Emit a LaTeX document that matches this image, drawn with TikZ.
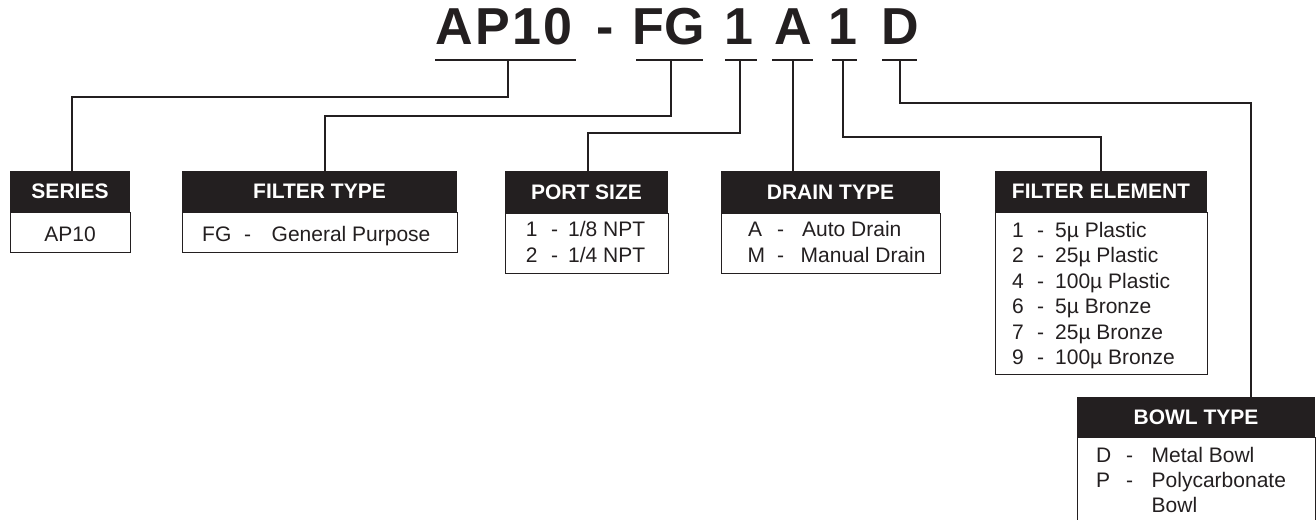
\documentclass[tikz,border=0pt]{standalone}
\usepackage{fontspec}
\setmainfont{Liberation Sans}
\definecolor{ink}{HTML}{231F20}
\newcommand\optrow[7]{%
  \node[txt] (#1c) at (#3,#2) {#4};
  \node[txt] (#1d) at (#5,#2) {-};
  \node[txt] (#1t) at (#6,#2) {#7};}
\begin{document}
\begin{tikzpicture}[x=1pt,y=-1pt,
  conn/.style={draw=ink, line width=1.4pt},
  uline/.style={draw=ink, line width=1.5pt},
  hdr/.style={fill=ink, text=white, font=\fontsize{21}{21}\selectfont\bfseries, inner sep=0pt},
  bodybox/.style={draw=ink, line width=0.9pt, fill=white, inner sep=0pt, anchor=north},
  txt/.style={anchor=base west, inner sep=0pt, text=ink, font=\fontsize{21}{21}\selectfont},
  ttl/.style={anchor=base, inner sep=0pt, text=ink, font=\fontsize{52}{52}\selectfont\bfseries}]
\useasboundingbox (0,0) rectangle (1316,519);
\clip (0,0) rectangle (1316,519);
\fill[white] (0,0) rectangle (1316,519);

% title
\node[ttl] (tAP) at (504,45) {A\kern2.5pt P\kern2.5pt 1\kern2.5pt 0};
\node[ttl] (tdash) at (605,45) {-};
\node[ttl] (tFG) at (669,45) {FG};
\node[ttl] (tone) at (738.5,45) {1};
\node[ttl] (tA) at (793,45) {A};
\node[ttl] (ttwo) at (843,45) {1};
\node[ttl] (tD) at (900,45) {D};

% underlines
\coordinate (uAPl) at (435,60); \coordinate (uAPr) at (576,60);
\coordinate (uFGl) at (636,60); \coordinate (uFGr) at (703,60);
\coordinate (uPl) at (725,60);  \coordinate (uPr) at (757,60);
\coordinate (uAl) at (772,60);  \coordinate (uAr) at (813,60);
\coordinate (uEl) at (832,60);  \coordinate (uEr) at (857,60);
\coordinate (uDl) at (882,60);  \coordinate (uDr) at (917,60);
\foreach \a/\b in {uAPl/uAPr,uFGl/uFGr,uPl/uPr,uAl/uAr,uEl/uEr,uDl/uDr}
  \draw[uline] (\a) -- (\b);

% stem starts
\coordinate (sAP) at (508,60);
\coordinate (sFG) at (671,60);
\coordinate (sP) at (740,60);
\coordinate (sA) at (793,60);
\coordinate (sE) at (843,60);
\coordinate (sD) at (900,60);

% boxes
\node[hdr, minimum width=120pt, minimum height=41pt] (serh) at (70,191.5) {SERIES};
\node[bodybox, minimum width=120pt, minimum height=40pt] (serb) at (serh.south) {};
\node[txt, anchor=base] (serv) at (70,241) {AP10};

\node[hdr, minimum width=275pt, minimum height=41pt] (fth) at (319.5,191.5) {FILTER TYPE};
\node[bodybox, minimum width=275pt, minimum height=40pt] (ftb) at (fth.south) {};
\optrow{ft}{241}{202}{FG}{244}{271.5}{General Purpose}

\node[hdr, minimum width=163pt, minimum height=42pt] (psh) at (586.5,192) {PORT SIZE};
\node[bodybox, minimum width=163pt, minimum height=60pt] (psb) at (psh.south) {};
\optrow{psa}{236}{525.7}{1}{551}{568}{1/8 NPT}
\optrow{psb}{262}{525.7}{2}{551}{568}{1/4 NPT}

\node[hdr, minimum width=219pt, minimum height=42pt] (dth) at (830.5,192) {DRAIN TYPE};
\node[bodybox, minimum width=219pt, minimum height=60pt] (dtb) at (dth.south) {};
\optrow{dta}{236}{748}{A}{777}{802}{Auto Drain}
\optrow{dtb}{262}{747.5}{M}{777}{800.5}{Manual Drain}

\node[hdr, minimum width=212pt, minimum height=41pt] (feh) at (1101,191.5) {FILTER ELEMENT};
\node[bodybox, minimum width=212pt, minimum height=162pt] (feb) at (feh.south) {};
\optrow{fea}{237}{1012}{1}{1037}{1055}{5µ Plastic}
\optrow{feb}{262.5}{1012}{2}{1037}{1055}{25µ Plastic}
\optrow{fec}{288}{1012}{4}{1037}{1055}{100µ Plastic}
\optrow{fed}{313.5}{1012}{6}{1037}{1055}{5µ Bronze}
\optrow{fee}{339}{1012}{7}{1037}{1055}{25µ Bronze}
\optrow{fef}{364.5}{1012}{9}{1037}{1055}{100µ Bronze}

\node[hdr, minimum width=238pt, minimum height=40pt] (bth) at (1196,417) {BOWL TYPE};
\node[bodybox, minimum width=238pt, minimum height=110pt] (btb) at (bth.south) {};
\optrow{bta}{462}{1096}{D}{1126}{1151.5}{Metal Bowl}
\optrow{btb}{487}{1096}{P}{1126}{1151.5}{Polycarbonate}
\node[txt] (btc) at (1151.5,512) {Bowl};

% entry points
\coordinate (eSer) at (72,171);
\coordinate (eFT) at (325,171);
\coordinate (ePS) at (588,171);
\coordinate (eDT) at (793,171);
\coordinate (eFE) at (1101,171);
\coordinate (eBT) at (1251,397);

% connectors
\draw[conn] (sAP) -- ++(0,37) -| (eSer);
\draw[conn] (sFG) -- ++(0,56) -| (eFT);
\draw[conn] (sP) -- ++(0,73) -| (ePS);
\draw[conn] (sA) -- (eDT);
\draw[conn] (sE) -- ++(0,77) -| (eFE);
\draw[conn] (sD) -- ++(0,43) -| (eBT);
\end{tikzpicture}
\end{document}
